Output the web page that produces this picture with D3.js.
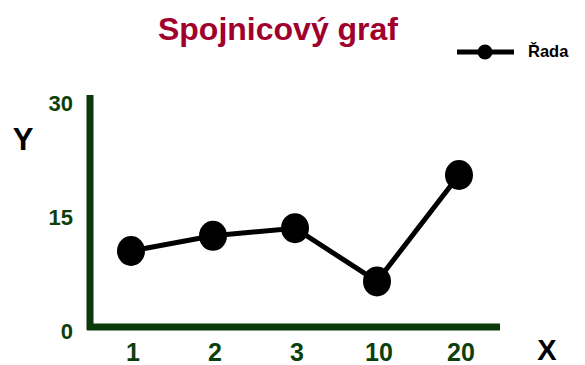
<!DOCTYPE html>
<html>
<head>
<meta charset="utf-8">
<script src="https://cdn.jsdelivr.net/npm/d3@7"></script>
<style>
  html, body { margin: 0; padding: 0; background: #fff; }
  svg { display: block; font-family: "Liberation Sans", Arial, sans-serif; }
</style>
</head>
<body>
<svg id="chart" width="585" height="365"></svg>
<script>
// Line chart data
const categories = ["1", "2", "3", "10", "20"];
const values = [10, 12, 13, 6, 20];
const yTicks = [0, 15, 30];
const seriesName = "Řada";
const titleText = "Spojnicový graf";

const svg = d3.select("#chart");
const axisColor = "#0a3a0a";
const labelColor = "#0d3f0d";
const fontFamily = "Liberation Sans, Arial, sans-serif";

const x = d3.scaleBand().domain(categories).range([90, 500]);
const y = d3.scaleLinear().domain([0, 30]).range([327, 99]);

// title
svg.append("text")
  .attr("x", 278).attr("y", 40)
  .attr("text-anchor", "middle")
  .attr("font-size", 32).attr("font-weight", "bold")
  .attr("fill", "#a0002c")
  .text(titleText);

// y axis
const yAxis = d3.axisLeft(y).tickValues(yTicks).tickSize(3).tickPadding(14);
const gy = svg.append("g").attr("transform", "translate(90,0)").call(yAxis);
gy.select(".domain").remove();
gy.selectAll(".tick line").attr("stroke", axisColor).attr("stroke-width", 3);
gy.selectAll(".tick text")
  .attr("fill", labelColor).attr("font-size", 22).attr("font-weight", "bold")
  .attr("font-family", fontFamily)
  .attr("dy", "0.5em");

// x axis labels
const xAxis = d3.axisBottom(x).tickSize(0).tickPadding(16);
const gx = svg.append("g").attr("transform", "translate(2,327)").call(xAxis);
gx.select(".domain").remove();
gx.selectAll(".tick text")
  .attr("fill", labelColor).attr("font-size", 25).attr("font-weight", "bold")
  .attr("font-family", fontFamily);

// axis lines
svg.append("line")
  .attr("x1", 90).attr("x2", 90).attr("y1", y(30) - 4).attr("y2", y(0) + 3)
  .attr("stroke", axisColor).attr("stroke-width", 7);
svg.append("line")
  .attr("x1", 87).attr("x2", 500).attr("y1", y(0)).attr("y2", y(0))
  .attr("stroke", axisColor).attr("stroke-width", 7);

// axis titles
svg.append("text").attr("x", 23).attr("y", 150)
  .attr("text-anchor", "middle").attr("font-size", 31).attr("font-weight", "bold")
  .attr("fill", "#000").text("Y");
svg.append("text").attr("x", 547).attr("y", 360)
  .attr("text-anchor", "middle").attr("font-size", 29).attr("font-weight", "bold")
  .attr("fill", "#000").text("X");

// series
const cx = (d, i) => x(categories[i]) + x.bandwidth() / 2;
const line = d3.line().x((d, i) => cx(d, i)).y(d => y(d));
svg.append("path").datum(values)
  .attr("d", line).attr("fill", "none")
  .attr("stroke", "#000").attr("stroke-width", 5);
svg.selectAll("ellipse.pt").data(values).enter().append("ellipse")
  .attr("class", "pt")
  .attr("cx", (d, i) => cx(d, i)).attr("cy", d => y(d))
  .attr("rx", 14).attr("ry", 15).attr("fill", "#000");

// legend
svg.append("line").attr("x1", 457).attr("x2", 514).attr("y1", 52).attr("y2", 52)
  .attr("stroke", "#000").attr("stroke-width", 5);
svg.append("circle").attr("cx", 485).attr("cy", 52).attr("r", 7.5).attr("fill", "#000");
svg.append("text").attr("x", 528).attr("y", 57)
  .attr("font-size", 16.5).attr("font-weight", "bold").attr("fill", "#000")
  .text(seriesName);
</script>
</body>
</html>
